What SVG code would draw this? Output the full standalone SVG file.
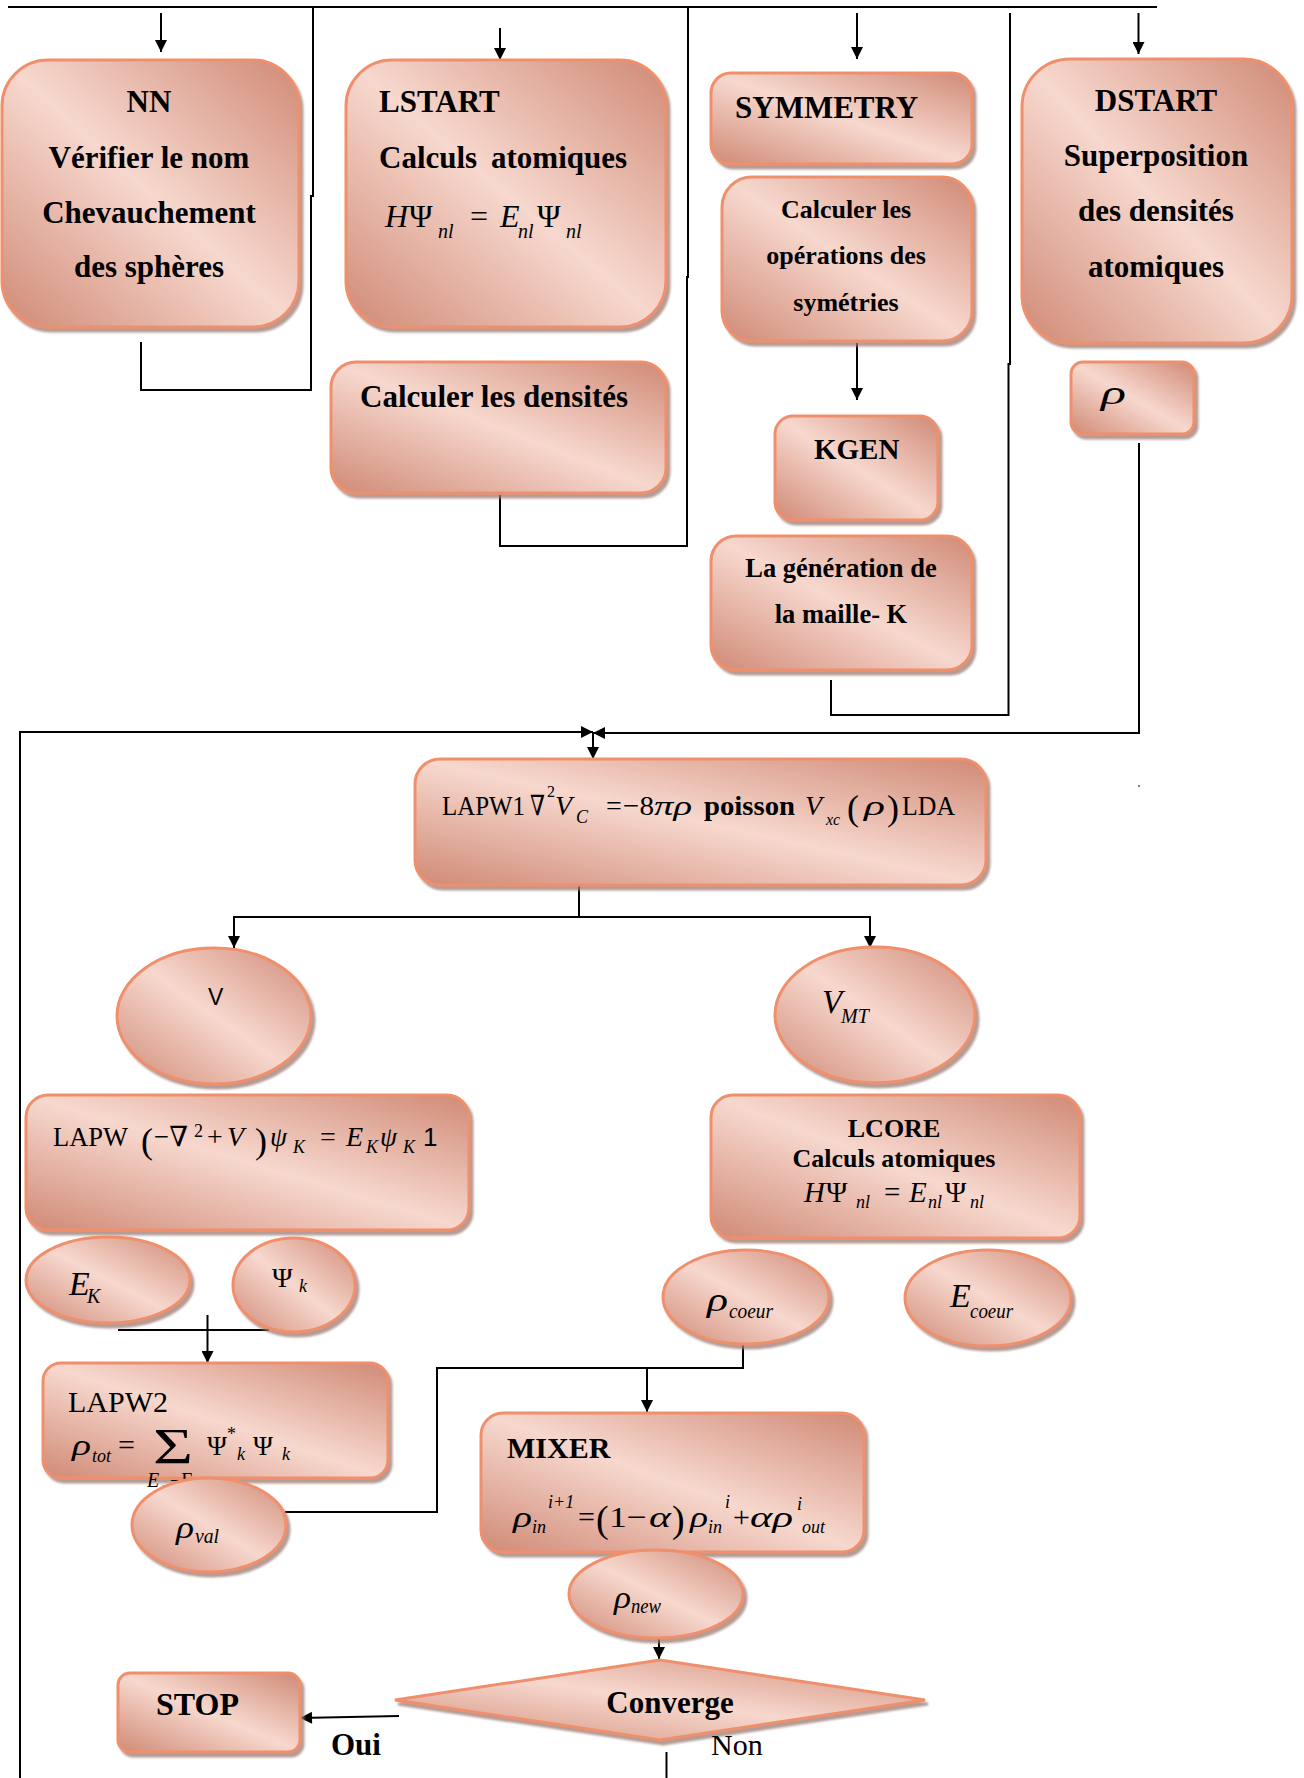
<svg xmlns="http://www.w3.org/2000/svg" width="1304" height="1778" viewBox="0 0 1304 1778">
<defs>
<linearGradient id="g" x1="1" y1="0" x2="0" y2="1">
<stop offset="0" stop-color="#d08a76"/>
<stop offset="0.5" stop-color="#f7d8ce"/>
<stop offset="1" stop-color="#d08a76"/>
</linearGradient>
<filter id="sh" x="-10%" y="-10%" width="125%" height="125%">
<feDropShadow dx="3" dy="4" stdDeviation="1.2" flood-color="#9c7a70" flood-opacity="0.75"/>
</filter>
<marker id="ah" viewBox="0 0 10 10" refX="10" refY="5" markerWidth="14" markerHeight="12" markerUnits="userSpaceOnUse" orient="auto">
<path d="M0,0 L10,5 L0,10 z" fill="#000"/>
</marker>
<style>
.n{fill:url(#g);stroke:#ef8f6c;stroke-width:3;filter:url(#sh)}
.c{fill:none;stroke:#000;stroke-width:2}
.a{fill:none;stroke:#000;stroke-width:2;marker-end:url(#ah)}
.b{font-family:"Liberation Serif","Times New Roman",serif;font-weight:bold;fill:#000}
.r{font-family:"Liberation Serif","Times New Roman","DejaVu Serif",serif;fill:#000}
.i{font-family:"Liberation Serif","Times New Roman","DejaVu Serif",serif;font-style:italic;fill:#000}
.s{font-family:"Liberation Sans",Arial,sans-serif;fill:#000}
.m{text-anchor:middle}
</style>
</defs>
<rect width="1304" height="1778" fill="#fff"/>

<g id="connectors">
<path class="c" d="M8,7 H1157"/>
<path class="a" d="M161,13 V52"/>
<path class="a" d="M500,28 V60"/>
<path class="a" d="M857,13 V59"/>
<path class="a" d="M1138.5,13 V54"/>
<path class="c" d="M141,342 V390 H311 V196 H313 V7"/>
<path class="c" d="M500,495 V546 H687 V277 H688 V7"/>
<path class="c" d="M831,680 V715 H1008.5 V364 H1010 V13"/>
<path class="a" d="M857,343 V400"/>
<path class="a" d="M1139,443 V733 H593"/>
<path class="a" d="M20,1778 V732 H593"/>
<path class="a" d="M593,732 V759"/>
<path class="c" d="M579,886 V917"/>
<path class="a" d="M579,917 H234 V948"/>
<path class="a" d="M579,917 H870 V948"/>
<path class="c" d="M118,1330 H269"/>
<path class="a" d="M207.5,1315 V1363"/>
<path class="c" d="M285,1512 H437 V1368 H743 V1330"/>
<path class="a" d="M647,1368 V1412"/>
<path class="a" d="M659,1635 V1659"/>
<path class="a" d="M399,1716 L300,1718"/>
<path class="c" d="M666.5,1752 V1778"/>
<circle cx="1139" cy="786" r="1" fill="#555"/>
</g>

<g id="nn">
<rect class="n" x="2" y="60" width="297" height="267" rx="46"/>
<text class="b m" x="149" y="112" font-size="31">NN</text>
<text class="b m" x="149" y="168" font-size="31">Vérifier le nom</text>
<text class="b m" x="149" y="223" font-size="31">Chevauchement</text>
<text class="b m" x="149" y="277" font-size="31">des sphères</text>
</g>

<g id="lstart">
<rect class="n" x="346" y="60" width="320" height="267" rx="46"/>
<text class="b" x="379" y="112" font-size="31">LSTART</text>
<text class="b" x="379" y="168" font-size="31">Calculs</text>
<text class="b" x="491" y="168" font-size="31">atomiques</text>
<text class="i" x="385" y="227" font-size="32">H</text>
<text class="r" x="409" y="227" font-size="32">Ψ</text>
<text class="i" x="438" y="238" font-size="20">nl</text>
<text class="r" x="470" y="227" font-size="32">=</text>
<text class="i" x="500" y="227" font-size="32">E</text>
<text class="i" x="518" y="238" font-size="20">nl</text>
<text class="r" x="537" y="227" font-size="32">Ψ</text>
<text class="i" x="566" y="238" font-size="20">nl</text>
</g>

<g id="densites">
<rect class="n" x="331" y="362" width="335" height="131" rx="25"/>
<text class="b" x="360" y="407" font-size="31">Calculer les densités</text>
</g>

<g id="symmetry">
<rect class="n" x="711" y="73" width="261" height="91" rx="20"/>
<text class="b" x="735" y="118" font-size="31">SYMMETRY</text>
</g>

<g id="operations">
<rect class="n" x="722" y="177" width="250" height="164" rx="30"/>
<text class="b m" x="846" y="218" font-size="26">Calculer les</text>
<text class="b m" x="846" y="264" font-size="26">opérations des</text>
<text class="b m" x="846" y="311" font-size="26">symétries</text>
</g>

<g id="kgen">
<rect class="n" x="775" y="416" width="163" height="104" rx="18"/>
<text class="b" x="814" y="459" font-size="29">KGEN</text>
</g>

<g id="maille">
<rect class="n" x="711" y="536" width="261" height="134" rx="25"/>
<text class="b m" x="841" y="577" font-size="26.5">La génération de</text>
<text class="b m" x="841" y="623" font-size="26.5">la maille- K</text>
</g>

<g id="dstart">
<rect class="n" x="1022" y="59" width="270" height="284" rx="48"/>
<text class="b m" x="1156" y="111" font-size="31">DSTART</text>
<text class="b m" x="1156" y="166" font-size="31">Superposition</text>
<text class="b m" x="1156" y="221" font-size="31">des densités</text>
<text class="b m" x="1156" y="277" font-size="31">atomiques</text>
</g>

<g id="rho">
<rect class="n" x="1071" y="362" width="123" height="72" rx="12"/>
<text class="i" x="1101" y="404" font-size="34" textLength="25" lengthAdjust="spacingAndGlyphs">ρ</text>
</g>

<g id="lapw1">
<rect class="n" x="415" y="759" width="571" height="126" rx="25"/>
<text class="r" x="442" y="815" font-size="28" textLength="83" lengthAdjust="spacingAndGlyphs">LAPW1</text>
<text class="r" x="530" y="815" font-size="28" textLength="15" lengthAdjust="spacingAndGlyphs">∇</text>
<text class="r" x="547" y="797" font-size="16">2</text>
<text class="i" x="555" y="815" font-size="28">V</text>
<text class="i" x="576" y="823" font-size="18">C</text>
<text class="r" x="606" y="815" font-size="28">=</text>
<text class="r" x="623" y="815" font-size="28" textLength="31" lengthAdjust="spacingAndGlyphs">−8</text>
<text class="i" x="654" y="815" font-size="28" textLength="38" lengthAdjust="spacingAndGlyphs">πρ</text>
<text class="b" x="704" y="815" font-size="28" textLength="91" lengthAdjust="spacingAndGlyphs">poisson</text>
<text class="i" x="805" y="815" font-size="28">V</text>
<text class="i" x="826" y="825" font-size="16">xc</text>
<text class="r" x="847" y="820" font-size="36">(</text>
<text class="i" x="864" y="815" font-size="28" textLength="21" lengthAdjust="spacingAndGlyphs">ρ</text>
<text class="r" x="887" y="820" font-size="36">)</text>
<text class="r" x="902" y="815" font-size="28" textLength="53" lengthAdjust="spacingAndGlyphs">LDA</text>
</g>

<g id="v">
<ellipse class="n" cx="214" cy="1016" rx="97" ry="68"/>
<text class="s" x="208" y="1005" font-size="23">V</text>
</g>

<g id="vmt">
<ellipse class="n" cx="875" cy="1015" rx="100" ry="68"/>
<text class="i" x="822" y="1013" font-size="33">V</text>
<text class="i" x="841" y="1023" font-size="20">MT</text>
</g>

<g id="lapw">
<rect class="n" x="26" y="1095" width="443" height="135" rx="22"/>
<text class="r" x="53" y="1146" font-size="28" textLength="75" lengthAdjust="spacingAndGlyphs">LAPW</text>
<text class="r" x="141" y="1153" font-size="36">(</text>
<text class="r" x="154" y="1146" font-size="28" textLength="34" lengthAdjust="spacingAndGlyphs">−∇</text>
<text class="r" x="194" y="1137" font-size="18">2</text>
<text class="r" x="207" y="1146" font-size="28">+</text>
<text class="i" x="227" y="1146" font-size="28">V</text>
<text class="r" x="255" y="1153" font-size="36">)</text>
<text class="i" x="270" y="1146" font-size="28" textLength="17" lengthAdjust="spacingAndGlyphs">ψ</text>
<text class="i" x="293" y="1153" font-size="18">K</text>
<text class="r" x="320" y="1146" font-size="28">=</text>
<text class="i" x="346" y="1146" font-size="28">E</text>
<text class="i" x="366" y="1153" font-size="18">K</text>
<text class="i" x="380" y="1146" font-size="28" textLength="17" lengthAdjust="spacingAndGlyphs">ψ</text>
<text class="i" x="403" y="1153" font-size="18">K</text>
<text class="s" x="423" y="1146" font-size="26">1</text>
</g>

<g id="lcore">
<rect class="n" x="711" y="1095" width="369" height="143" rx="22"/>
<text class="b m" x="894" y="1137" font-size="26">LCORE</text>
<text class="b m" x="894" y="1167" font-size="26">Calculs atomiques</text>
<text class="i" x="804" y="1202" font-size="29">H</text>
<text class="r" x="826" y="1202" font-size="29">Ψ</text>
<text class="i" x="856" y="1208" font-size="18">nl</text>
<text class="r" x="884" y="1202" font-size="29">=</text>
<text class="i" x="909" y="1202" font-size="29">E</text>
<text class="i" x="928" y="1208" font-size="18">nl</text>
<text class="r" x="945" y="1202" font-size="29">Ψ</text>
<text class="i" x="970" y="1208" font-size="18">nl</text>
</g>

<g id="ek">
<ellipse class="n" cx="108" cy="1280" rx="82" ry="43"/>
<text class="i" x="69" y="1295" font-size="34">E</text>
<text class="i" x="87" y="1303" font-size="20">K</text>
</g>

<g id="psik">
<ellipse class="n" cx="294" cy="1285" rx="61" ry="47"/>
<text class="r" x="272" y="1287" font-size="28">Ψ</text>
<text class="i" x="299" y="1292" font-size="18">k</text>
</g>

<g id="rhocoeur">
<ellipse class="n" cx="746" cy="1297" rx="83" ry="47"/>
<text class="i" x="707" y="1311" font-size="34" textLength="21" lengthAdjust="spacingAndGlyphs">ρ</text>
<text class="i" x="729" y="1318" font-size="22" textLength="44" lengthAdjust="spacingAndGlyphs">coeur</text>
</g>

<g id="ecoeur">
<ellipse class="n" cx="988" cy="1298" rx="83" ry="48"/>
<text class="i" x="950" y="1307" font-size="34">E</text>
<text class="i" x="970" y="1318" font-size="22" textLength="43" lengthAdjust="spacingAndGlyphs">coeur</text>
</g>

<g id="lapw2">
<rect class="n" x="43" y="1363" width="345" height="115" rx="18"/>
<text class="r" x="68" y="1412" font-size="30">LAPW2</text>
<text class="i" x="72" y="1455" font-size="30" textLength="19" lengthAdjust="spacingAndGlyphs">ρ</text>
<text class="i" x="92" y="1462" font-size="18">tot</text>
<text class="r" x="118" y="1455" font-size="30">=</text>
<text class="r" x="153" y="1463" font-size="50" textLength="40" lengthAdjust="spacingAndGlyphs">Σ</text>
<text class="r" x="207" y="1455" font-size="27">Ψ</text>
<text class="r" x="227" y="1440" font-size="18">*</text>
<text class="i" x="237" y="1460" font-size="18">k</text>
<text class="r" x="253" y="1455" font-size="27">Ψ</text>
<text class="i" x="282" y="1460" font-size="18">k</text>
<text class="i" x="147" y="1487" font-size="20">E</text>
<text class="i" x="161" y="1491" font-size="12">g</text>
<text class="r" x="170" y="1487" font-size="20">−F</text>
<text class="i" x="193" y="1491" font-size="12" fill="#bbb">F</text>
</g>

<g id="rhoval">
<ellipse class="n" cx="209" cy="1525" rx="77" ry="47"/>
<text class="i" x="176" y="1538" font-size="32" textLength="18" lengthAdjust="spacingAndGlyphs">ρ</text>
<text class="i" x="195" y="1543" font-size="22" textLength="24" lengthAdjust="spacingAndGlyphs">val</text>
</g>

<g id="mixer">
<rect class="n" x="481" y="1413" width="383" height="139" rx="22"/>
<text class="b" x="507" y="1458" font-size="30">MIXER</text>
<text class="i" x="513" y="1527" font-size="30" textLength="19" lengthAdjust="spacingAndGlyphs">ρ</text>
<text class="i" x="532" y="1533" font-size="18">in</text>
<text class="i" x="548" y="1508" font-size="18">i+1</text>
<text class="r" x="578" y="1527" font-size="30">=</text>
<text class="r" x="596" y="1532" font-size="38">(</text>
<text class="r" x="609" y="1527" font-size="30" textLength="38" lengthAdjust="spacingAndGlyphs">1−</text>
<text class="i" x="649" y="1527" font-size="30" textLength="22" lengthAdjust="spacingAndGlyphs">α</text>
<text class="r" x="672" y="1532" font-size="38">)</text>
<text class="i" x="690" y="1527" font-size="30" textLength="18" lengthAdjust="spacingAndGlyphs">ρ</text>
<text class="i" x="708" y="1533" font-size="18">in</text>
<text class="i" x="725" y="1508" font-size="18">i</text>
<text class="r" x="733" y="1527" font-size="30">+</text>
<text class="i" x="750" y="1527" font-size="30" textLength="43" lengthAdjust="spacingAndGlyphs">αρ</text>
<text class="i" x="797" y="1510" font-size="18">i</text>
<text class="i" x="802" y="1533" font-size="18">out</text>
</g>

<g id="rhonew">
<ellipse class="n" cx="656" cy="1594" rx="87" ry="44"/>
<text class="i" x="614" y="1608" font-size="32" textLength="17" lengthAdjust="spacingAndGlyphs">ρ</text>
<text class="i" x="631" y="1613" font-size="22" textLength="30" lengthAdjust="spacingAndGlyphs">new</text>
</g>

<g id="converge">
<polygon class="n" points="395,1700 660,1660 925,1700 660,1740"/>
<text class="b m" x="670" y="1713" font-size="31">Converge</text>
</g>

<g id="stop">
<rect class="n" x="118" y="1673" width="182" height="79" rx="12"/>
<text class="b" x="156" y="1715" font-size="32">STOP</text>
</g>

<g id="labels">
<text class="b" x="331" y="1755" font-size="31">Oui</text>
<text class="r" x="711" y="1755" font-size="30">Non</text>
</g>
</svg>
